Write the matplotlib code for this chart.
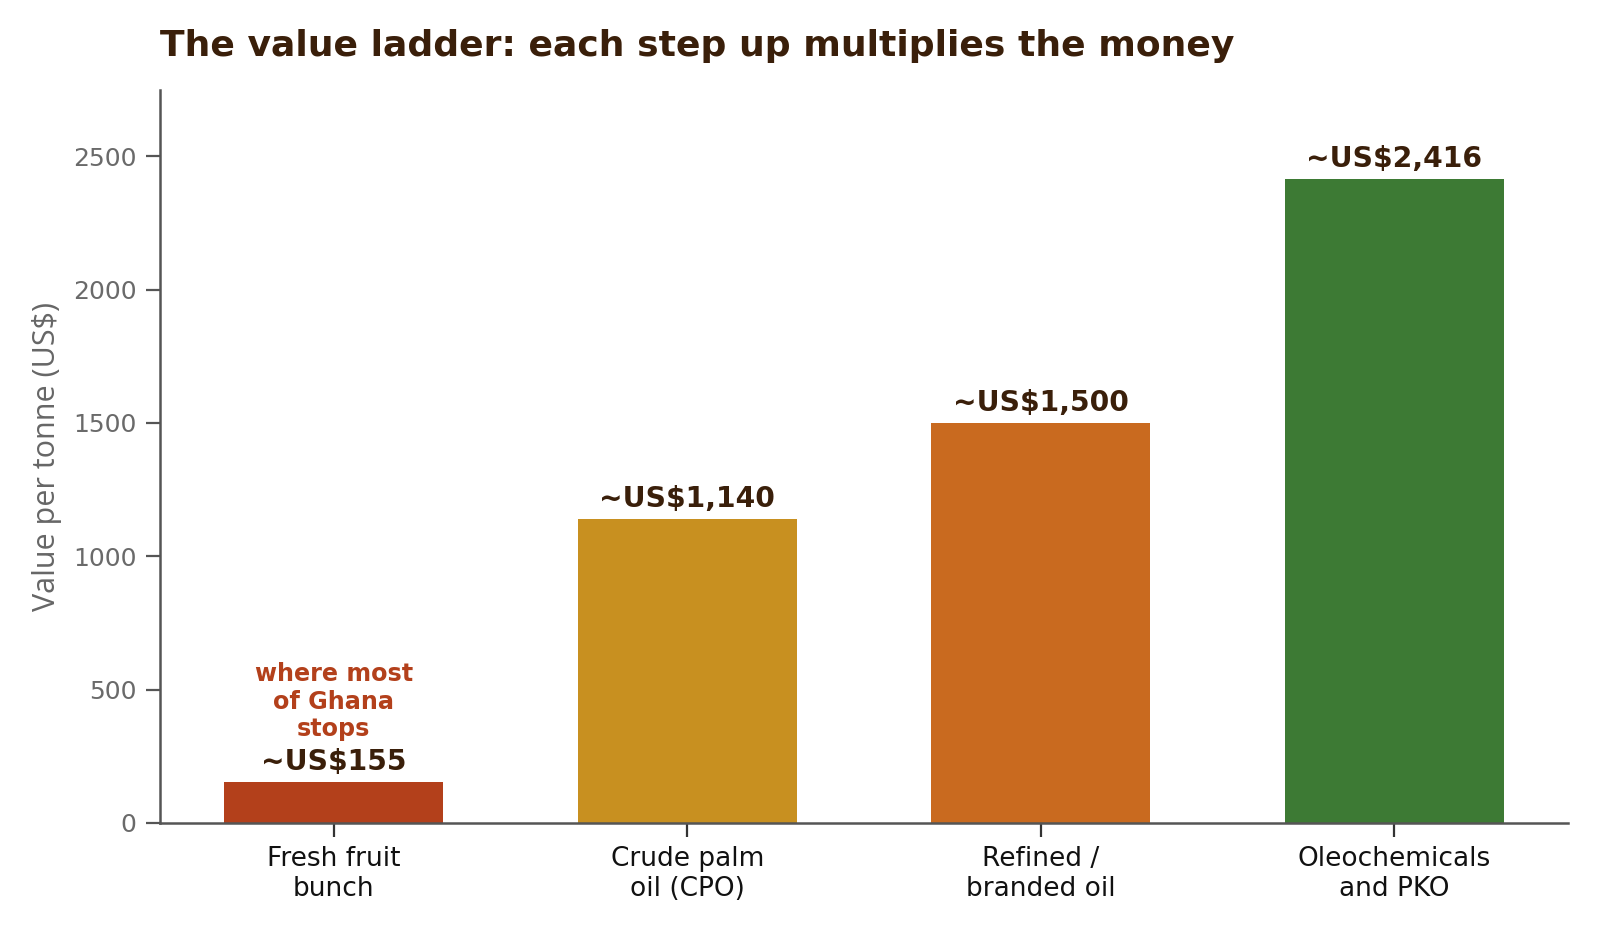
import matplotlib
matplotlib.use("Agg")
import matplotlib.pyplot as plt

categories = ["Fresh fruit\nbunch", "Crude palm\noil (CPO)", "Refined /\nbranded oil", "Oleochemicals\nand PKO"]
values = [155, 1140, 1500, 2416]
value_labels = ["~US$155", "~US$1,140", "~US$1,500", "~US$2,416"]
colors = ["#B3401B", "#C89020", "#C96A1F", "#3D7A34"]
annotation = "where most\nof Ghana\nstops"
title = "The value ladder: each step up multiplies the money"
ylabel = "Value per tonne (US$)"

fig = plt.figure(figsize=(8, 4.67), dpi=200)
ax = fig.add_axes([0.1, 0.119, 0.88, 0.785])

x = list(range(len(categories)))
ax.bar(x, values, width=0.62, color=colors)
ax.set_ylim(0, 2750)
ax.set_xticks(x)
ax.set_xticklabels(categories, fontsize=9.5, color="#111111")
ax.set_yticks([0, 500, 1000, 1500, 2000, 2500])
ax.tick_params(axis="y", labelsize=9, labelcolor="#6a6a6a", color="#555555", length=5)
ax.tick_params(axis="x", color="#333333", length=5)
for s in ["top", "right"]:
    ax.spines[s].set_visible(False)
for s in ["left", "bottom"]:
    ax.spines[s].set_color("#555555")
    ax.spines[s].set_linewidth(0.9)

for xi, v, lab in zip(x, values, value_labels):
    ax.annotate(lab, (xi, v), xytext=(0, 2), textcoords="offset points",
                ha="center", va="bottom", fontsize=10.2, fontweight="bold", color="#3A1F0A")

ax.annotate(annotation, (x[0], values[0]), xytext=(0, 14.5), textcoords="offset points",
            ha="center", va="bottom", fontsize=8.6, fontweight="bold", color="#B3401B",
            linespacing=1.18)

ax.set_ylabel(ylabel, fontsize=11, color="#666666", family=["Open Sans", "DejaVu Sans"])
ax.set_title(title, loc="left", fontsize=13, fontweight="bold", color="#3A1F0A", pad=12)

fig.savefig("out.png", dpi=200)
